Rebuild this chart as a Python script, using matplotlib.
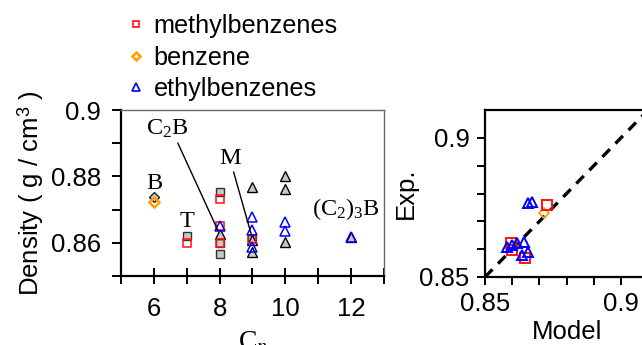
import matplotlib
matplotlib.use("Agg")
import matplotlib.pyplot as plt
from matplotlib.lines import Line2D
from matplotlib.ticker import FixedLocator

plt.rcParams["font.family"] = ["Liberation Sans", "DejaVu Sans"]
plt.rcParams["mathtext.fontset"] = "custom"
plt.rcParams["mathtext.rm"] = "Liberation Serif"
plt.rcParams["mathtext.it"] = "Liberation Serif:italic"
plt.rcParams["mathtext.sf"] = "Liberation Sans"

# ---- densities vs. carbon number (g/cm^3) ----
# experimental (grey / black) and model (coloured) values
methyl_exp_n = [7, 8, 8, 8, 9]
methyl_exp_rho = [0.8621, 0.8754, 0.8598, 0.8566, 0.8612]
methyl_mod_n = [7, 8, 8, 8, 9]
methyl_mod_rho = [0.8598, 0.8732, 0.8598, 0.8652, 0.8610]

benzene_exp_n = [6]
benzene_exp_rho = [0.8737]
benzene_mod_n = [6]
benzene_mod_rho = [0.8722]

ethyl_exp_n = [8, 9, 9, 9, 10, 10, 10, 12]
ethyl_exp_rho = [0.8626, 0.8767, 0.8607, 0.8572, 0.8800, 0.8762, 0.8603, 0.8617]
ethyl_mod_n = [8, 9, 9, 9, 10, 10, 12]
ethyl_mod_rho = [0.8652, 0.8678, 0.8639, 0.8588, 0.8663, 0.8637, 0.8617]

# ---- parity data: model vs. experiment ----
par_methyl_model = [0.8596, 0.8598, 0.8647, 0.8729]
par_methyl_exp = [0.8621, 0.8597, 0.8567, 0.8757]
par_benzene_model = [0.8717]
par_benzene_exp = [0.8731]
par_ethyl_model = [0.8580, 0.8600, 0.8617, 0.8645, 0.8635, 0.8659, 0.8659, 0.8672]
par_ethyl_exp = [0.8609, 0.8614, 0.8621, 0.8627, 0.8579, 0.8591, 0.8767, 0.8771]

legend_labels = ["methylbenzenes", "benzene", "ethylbenzenes"]

RED = "#ff1010"
ORANGE = "#ffa000"
BLUE = "#0000ff"
GREY = "#c8c8c8"
FS = 18.5

fig = plt.figure(figsize=(6.42, 3.45), dpi=100)

# ================= left panel =================
ax = fig.add_axes([121 / 642, 69 / 345, 263 / 642, 166 / 345])
ax.set_xlim(5, 13)
ax.set_ylim(0.85, 0.90)

ms = 6.0
ax.plot(methyl_exp_n, methyl_exp_rho, "s", ms=ms, mfc=GREY, mec="#333333", mew=1.0, ls="none")
ax.plot(benzene_exp_n, benzene_exp_rho, "D", ms=ms * 0.85, mfc=GREY, mec="#222222", mew=1.0, ls="none")
ax.plot(ethyl_exp_n, ethyl_exp_rho, "^", ms=ms * 1.1, mfc=GREY, mec="black", mew=1.0, ls="none")
ax.plot(methyl_mod_n, methyl_mod_rho, "s", ms=ms, mfc="none", mec=RED, mew=1.1, ls="none")
ax.plot(benzene_mod_n, benzene_mod_rho, "D", ms=ms * 0.85, mfc="none", mec=ORANGE, mew=1.8, ls="none")
ax.plot(ethyl_mod_n, ethyl_mod_rho, "^", ms=ms * 1.1, mfc="none", mec=BLUE, mew=1.1, ls="none")

for side in ("top", "right"):
    ax.spines[side].set_color("#666666")
    ax.spines[side].set_linewidth(1.0)
for side in ("left", "bottom"):
    ax.spines[side].set_linewidth(1.6)

ax.xaxis.set_major_locator(FixedLocator([6, 8, 10, 12]))
ax.xaxis.set_minor_locator(FixedLocator([5, 7, 9, 11, 13]))
ax.yaxis.set_major_locator(FixedLocator([0.86, 0.88, 0.90]))
ax.yaxis.set_minor_locator(FixedLocator([0.85, 0.87, 0.89]))
ax.set_yticklabels(["0.86", "0.88", "0.9"])
ax.tick_params(axis="x", which="both", direction="inout", length=11.5, width=1.4,
               labelsize=FS, pad=9.5, top=False)
ax.tick_params(axis="y", which="both", direction="out", length=6.5, width=1.4,
               labelsize=FS, pad=8, right=False)

ax.set_ylabel(r"Density ( g / cm$^{\mathsf{3}}$ )", fontsize=FS, labelpad=3)
ax.set_xlabel(r"C$_n$", fontsize=20, family="Liberation Serif", labelpad=6)

serif = dict(family="Liberation Serif", fontsize=17.5)
ax.annotate(r"C$_2$B", xy=(ethyl_exp_n[0], ethyl_exp_rho[0]), xytext=(5.76, 0.8925),
            ha="left", va="baseline", **serif,
            arrowprops=dict(arrowstyle="-", lw=1.0, color="black",
                            shrinkA=0, shrinkB=3, relpos=(0.72, 0.0)))
ax.annotate("M", xy=(methyl_exp_n[4], methyl_exp_rho[4]), xytext=(7.98, 0.8837),
            ha="left", va="baseline", **serif,
            arrowprops=dict(arrowstyle="-", lw=1.0, color="black",
                            shrinkA=0, shrinkB=3, relpos=(0.64, 0.0)))
ax.text(benzene_exp_n[0], 0.8762, "B", ha="center", va="baseline", **serif)
ax.text(methyl_exp_n[0], 0.8648, "T", ha="center", va="baseline", **serif)
ax.text(10.81, 0.8684, r"(C$_2$)$_3$B", ha="left", va="baseline", **serif)

# legend in the top strip
handles = [
    Line2D([], [], ls="none", marker="s", ms=5, mfc="none", mec=RED, mew=1.2),
    Line2D([], [], ls="none", marker="D", ms=4.2, mfc="none", mec=ORANGE, mew=1.8),
    Line2D([], [], ls="none", marker="^", ms=5.5, mfc="none", mec=BLUE, mew=1.2),
]
fig.legend(handles, legend_labels, loc="upper left", bbox_to_anchor=(126 / 642, 1 - 14 / 345),
           frameon=False, fontsize=18.2, handlelength=0.8, handletextpad=0.3,
           labelspacing=0.3, borderpad=0, borderaxespad=0)

# ================= right panel =================
bx = fig.add_axes([485 / 642, 68 / 345, 163.2 / 642, 167 / 345])
bx.set_xlim(0.85, 0.91)
bx.set_ylim(0.85, 0.91)
lims = [0.85, 0.91]
bx.plot(lims, lims, ls=(0, (3.2, 2.4)), color="black", lw=2.4)

bx.plot(par_benzene_model, par_benzene_exp, "D", ms=5.5, mfc="none", mec=ORANGE, mew=1.3, ls="none")
bx.plot(par_methyl_model, par_methyl_exp, "s", ms=6.5, mfc="none", mec=RED, mew=1.4, ls="none")
bx.plot(par_ethyl_model, par_ethyl_exp, "^", ms=7.5, mfc="none", mec=BLUE, mew=1.4, ls="none")

for side in bx.spines.values():
    side.set_linewidth(1.6)

ticks = [0.85, 0.86, 0.87, 0.88, 0.89, 0.90]
for axis in (bx.xaxis, bx.yaxis):
    axis.set_major_locator(FixedLocator(ticks))
bx.set_xticklabels(["0.85", "", "", "", "", "0.9"])
bx.set_yticklabels(["0.85", "", "", "", "", "0.9"])
bx.tick_params(which="both", direction="out", length=6, width=1.4, labelsize=FS, pad=5)
bx.set_xlabel("Model", fontsize=FS, labelpad=3)
bx.set_ylabel("Exp.", fontsize=FS, labelpad=1)

fig.savefig("out.png", dpi=100)
